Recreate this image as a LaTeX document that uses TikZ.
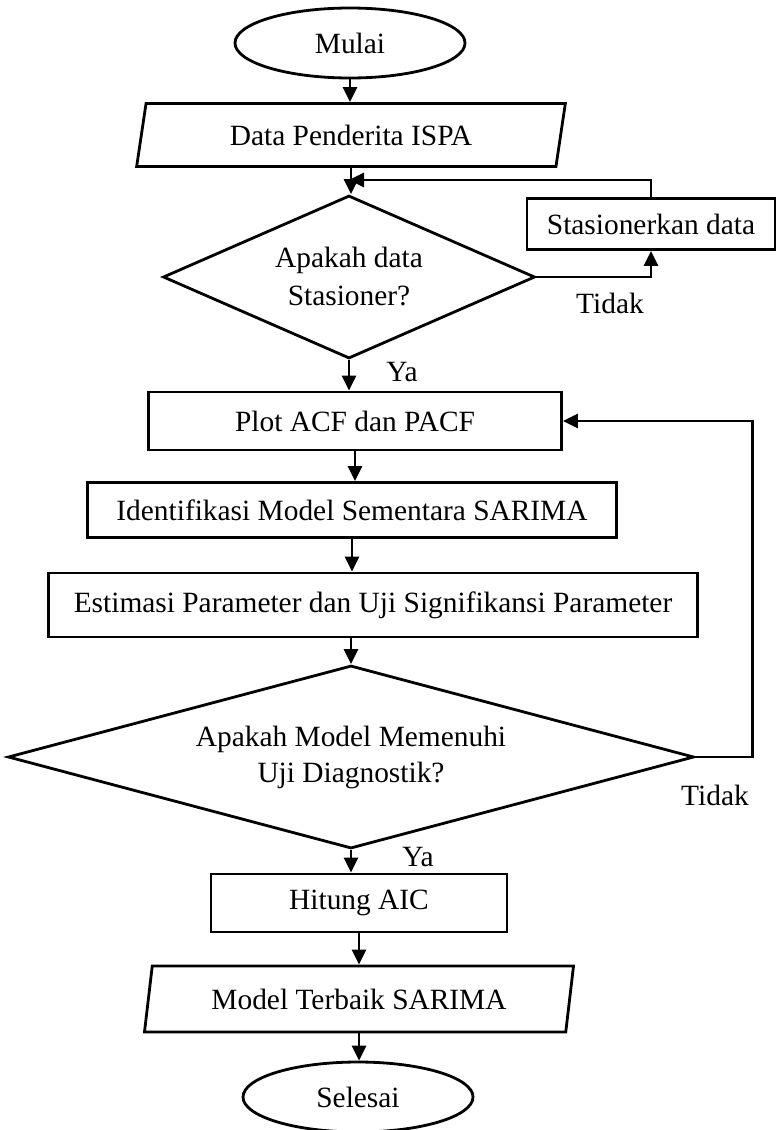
\documentclass[tikz,border=0pt]{standalone}
\usepackage{fontspec}
\setmainfont{Liberation Serif}
\usetikzlibrary{arrows.meta,shapes.geometric}
\tikzset{
  term/.style={draw, ellipse, inner sep=0pt, minimum width=115pt, minimum height=35pt},
  io/.style n args={2}{draw, trapezium, trapezium left angle=75, trapezium right angle=105,
        trapezium stretches=true, inner sep=0pt, minimum width=#1, minimum height=#2},
  proc/.style n args={2}{draw, rectangle, inner sep=0pt, minimum width=#1, minimum height=#2},
  dec/.style n args={3}{draw, diamond, aspect=#3, align=center, inner sep=0pt,
        minimum width=#1, minimum height=#2},
  flow/.style={-{Triangle[length=7.5pt,width=7pt]}},
  lab/.style={inner sep=0pt},
}
\begin{document}
\begin{tikzpicture}[x=0.5pt, y=-0.5pt, line width=1.4pt,
    font=\fontsize{14.7}{19}\selectfont]
  \useasboundingbox (0,0) rectangle (776,1130);
  % main column
  \node[term] (mulai) at (350,43) {Mulai};
  \node[io={214.5pt}{31.5pt}] (data) at (351,135) {Data Penderita ISPA};
  \node[dec={186pt}{81.5pt}{2.28}] (cek1) at (349,277) {Apakah data\\Stasioner?};
  \node[proc={124pt}{25.5pt}] (stas) at (651,224) {Stasionerkan data};
  \node[proc={206.5pt}{29pt}] (plot) at (355,421) {Plot ACF dan PACF};
  \node[proc={264.5pt}{27.5pt}] (ident) at (352,510) {Identifikasi Model Sementara SARIMA};
  \node[proc={324.5pt}{32pt}] (estim) at (373,605) {Estimasi Parameter dan Uji Signifikansi Parameter};
  \node[dec={343pt}{91.5pt}{3.75}, font=\fontsize{14.7}{18}\selectfont] (cek2) at (351,757)
    {Apakah Model Memenuhi\\Uji Diagnostik?};
  \node[proc={148pt}{29pt}] (aic) at (359,903) {Hitung AIC};
  \node[io={215pt}{33pt}] (model) at (359,999) {Model Terbaik SARIMA};
  \node[term] (selesai) at (358,1097) {Selesai};
  % labels
  \node[lab] (ya1) at (402,372) {Ya};
  \node[lab] (tdk1) at (610,303) {Tidak};
  \node[lab] (ya2) at (418,857) {Ya};
  \node[lab] (tdk2) at (715,795) {Tidak};
  \coordinate (mrg) at (349,180);
  % arrows
  \draw[flow] (mulai.south) -- (mulai.south |- data.north);
  \draw[flow] (data.south) -- (data.south |- cek1.north);
  \draw[flow] (cek1.east) -| (stas.south);
  \draw[flow] (stas.north) |- (mrg);
  \draw[flow] (cek1.south) -- (cek1.south |- plot.north);
  \draw[flow] (plot.south) -- (plot.south |- ident.north);
  \draw[flow] (ident.south) -- (ident.south |- estim.north);
  \draw[flow] (estim.south -| cek2.north) -- (cek2.north);
  \draw[flow] (cek2.east) -- ++(57,0) |- (plot.east);
  \draw[flow] (cek2.south) -- (cek2.south |- aic.north);
  \draw[flow] (aic.south) -- (aic.south |- model.north);
  \draw[flow] (model.south) -- (model.south |- selesai.north);
\end{tikzpicture}
\end{document}
